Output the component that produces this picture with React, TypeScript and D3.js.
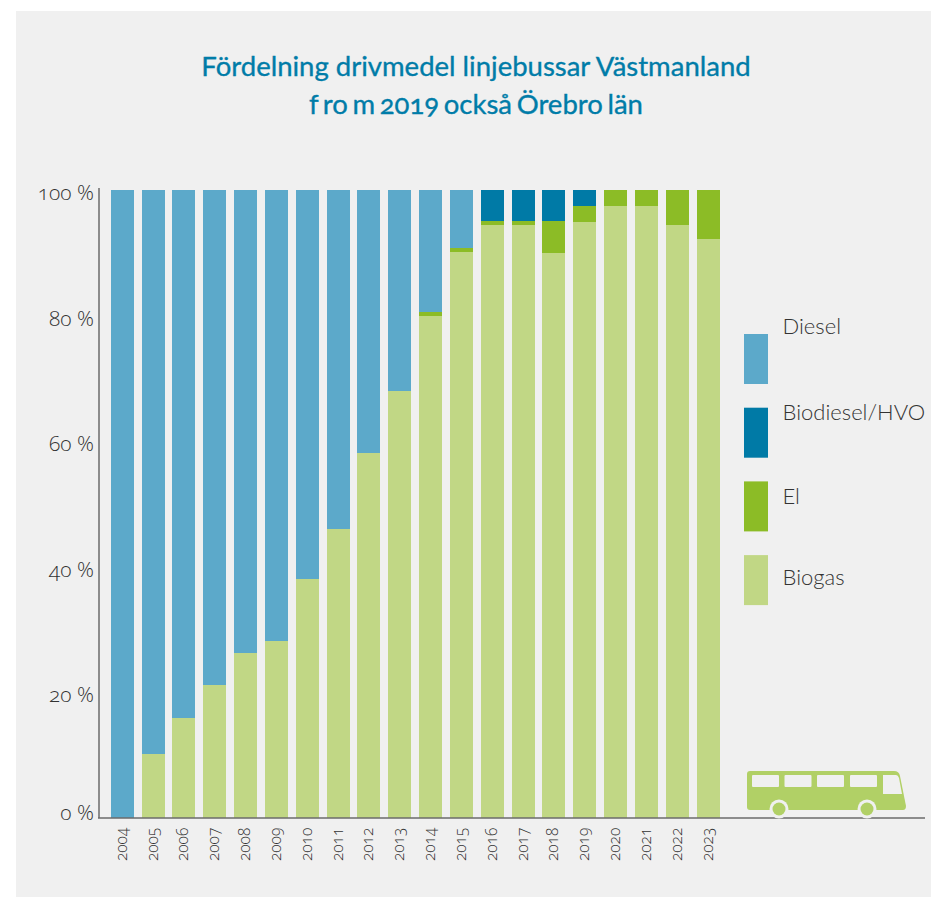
import React from 'react';
import * as d3 from 'd3';

const years = ['2004','2005','2006','2007','2008','2009','2010','2011','2012','2013','2014','2015','2016','2017','2018','2019','2020','2021','2022','2023'];
const biogas = [0,10.2,16,21.2,26.2,28.2,38,46,58.2,68,80,90.1,94.5,94.5,90,94.9,97.5,97.5,94.5,92.2];
const el = [0,0,0,0,0,0,0,0,0,0,0.6,0.7,0.5,0.5,5,2.6,2.5,2.5,5.5,7.8];
const biodiesel = [0,0,0,0,0,0,0,0,0,0,0,0,5,5,5,2.5,0,0,0,0];
const diesel = [100,89.8,84,78.8,73.8,71.8,62,54,41.8,32,19.4,9.2,0,0,0,0,0,0,0,0];
const yTicks = [0,20,40,60,80,100];
const titleLines = ['Fördelning drivmedel linjebussar Västmanland','f ro m 2019 också Örebro län'];

const seriesKeys = ['biogas','el','biodiesel','diesel'];
const seriesValues: Record<string, number[]> = { biogas, el, biodiesel, diesel };
const colors: Record<string, string> = { diesel: '#5CA9CA', biodiesel: '#007AA6', el: '#8CBC26', biogas: '#C1D785' };
const legendItems = [
  { key: 'diesel', label: 'Diesel', baseline: 334 },
  { key: 'biodiesel', label: 'Biodiesel/HVO', baseline: 420 },
  { key: 'el', label: 'El', baseline: 504 },
  { key: 'biogas', label: 'Biogas', baseline: 585 },
];

const tickFont = "'Open Sans', sans-serif";
const titleFont = "Lato, 'Open Sans', sans-serif";
const oldNums = { fontVariantNumeric: 'oldstyle-nums', fontFeatureSettings: '"onum"' };

const App = () => {
  const width = 931;
  const height = 897;

  const x = d3.scaleBand().domain(years).range([110.7, 719.7]).paddingInner(0.254);
  const y = d3.scaleLinear().domain([0, 100]).range([818, 190]);

  const table = years.map((year, i) => {
    const row: any = { year };
    seriesKeys.forEach(k => { row[k] = seriesValues[k][i]; });
    return row;
  });
  const stacked = d3.stack().keys(seriesKeys)(table);

  return (
    <svg width={width} height={height} style={{ position: 'absolute', left: 0, top: 0 }}>
      <rect x={0} y={0} width={width} height={height} fill="#ffffff" />
      <rect x={16} y={11} width={width - 16} height={height - 11} fill="#F0F0F0" />

      {/* Title */}
      {titleLines.map((t, i) => (
        <text key={t} x={476} y={76 + i * 38} textAnchor="middle" fill="#007CA8" stroke="#007CA8" strokeWidth={0.35} fontFamily={titleFont} fontSize={27.5} wordSpacing={i === 1 ? -2.4 : 0} style={oldNums}>{t}</text>
      ))}

      {/* Bars */}
      {stacked.map(s => (
        <g key={s.key} fill={colors[s.key]} shapeRendering="crispEdges">
          {s.map(d => d[1] > d[0] && (
            <rect key={d.data.year as string} x={x(d.data.year as string)} y={y(d[1])} width={x.bandwidth()} height={y(d[0]) - y(d[1])} />
          ))}
        </g>
      ))}

      {/* Axes */}
      <line x1={99} x2={99} y1={188} y2={818} stroke="#6b6b6b" strokeWidth={1.5} />
      <line x1={98} x2={925} y1={818} y2={818} stroke="#6b6b6b" strokeWidth={1.5} />
      {yTicks.map(t => (
        // the 0 % label is nudged up in the reference so it stays above the axis
        <text key={t} x={94} y={y(t) + (t === 0 ? 2 : 10)} textAnchor="end" fill="#333333" fontFamily={tickFont} fontWeight={300} fontSize={21} style={oldNums}>{t} %</text>
      ))}
      {years.map(year => (
        <text key={year} transform={`translate(${x(year)! + x.bandwidth() / 2 + 4.5},861) rotate(-90)`} fill="#333333" fontFamily={tickFont} fontWeight={300} fontSize={15.5} style={oldNums}>{year}</text>
      ))}

      {/* Legend */}
      {legendItems.map((item, i) => (
        <g key={item.key}>
          <rect x={744} y={334 + i * 73.7} width={24} height={50} fill={colors[item.key]} />
          <text x={782.5} y={item.baseline} fill="#333333" fontFamily={titleFont} fontWeight={300} fontSize={22}>{item.label}</text>
        </g>
      ))}

      {/* Bus */}
      <g fill="#B1D066">
        <path d="M750 771H894Q899 771 900 776L906 806Q906 810 903 810H750Q747 810 747 807V774Q747 771 750 771Z" />
        {[779, 867].map(cx => (
          <g key={cx}>
            <circle cx={cx} cy={809} r={9.5} fill="#F0F0F0" />
            <circle cx={cx} cy={809} r={6.5} />
          </g>
        ))}
      </g>
      <g fill="#F0F0F0">
        {[752, 784.5, 817, 850].map(wx => <rect key={wx} x={wx} y={775} width={27} height={12} rx={1} />)}
        <path d="M883 775H896Q898 775 899 778L902 794H883Z" />
      </g>
    </svg>
  );
};

export default App;
